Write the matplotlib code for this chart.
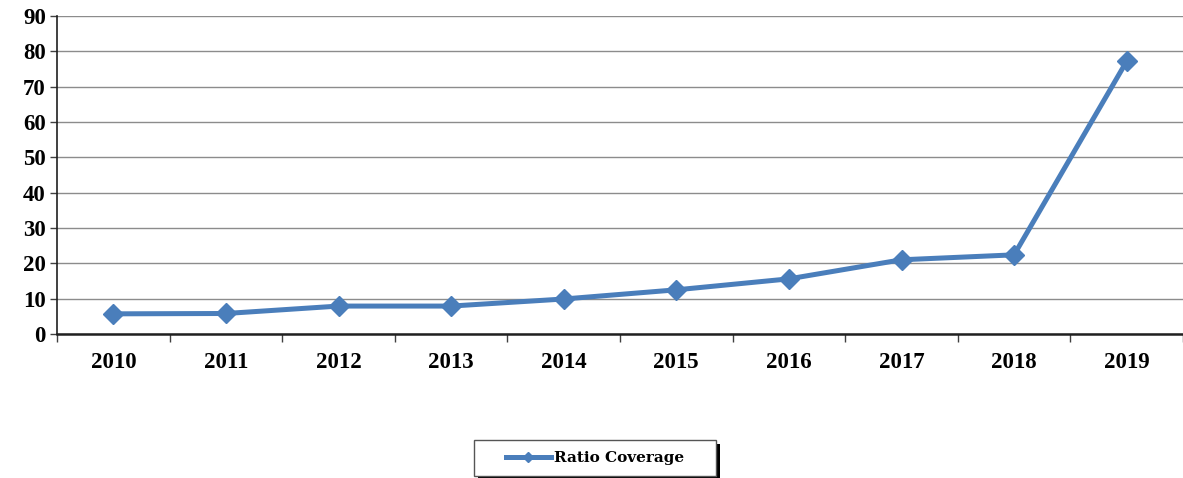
import matplotlib.pyplot as plt
from matplotlib.patches import Rectangle
import numpy as np

years = ['2010', '2011', '2012', '2013', '2014', '2015', '2016', '2017', '2018', '2019']
ratio_coverage = [5.7, 5.8, 7.9, 7.9, 9.9, 12.5, 15.6, 21.0, 22.4, 77.2]

plt.rcParams['font.family'] = ['Liberation Serif', 'DejaVu Serif']
plt.rcParams['font.weight'] = 'bold'

W, H = 1183, 478
fig = plt.figure(figsize=(W / 100, H / 100), dpi=100)
ax = fig.add_axes([0.0482, 0.3013, 0.9518, 0.6652])

x = np.arange(len(years))
ax.plot(x, ratio_coverage, color='#4A7EBB', linewidth=3.6, marker='D',
        markersize=10.5, label='Ratio Coverage')

ax.set_xlim(-0.5, len(years) - 0.5)
ax.set_ylim(0, 90)
ax.set_yticks(np.arange(0, 91, 10))
ax.set_xticks(x)
ax.set_xticklabels(years)
ax.set_xticks(np.arange(-0.5, len(years), 1), minor=True)
ax.tick_params(axis='x', which='major', length=0, pad=13, labelsize=16.5)
ax.tick_params(axis='x', which='minor', length=6, width=1, color='#404040')
ax.tick_params(axis='y', length=5, width=1, color='#404040', labelsize=16.5, pad=3)

ax.grid(axis='y', color='#8c8c8c', linewidth=1)
ax.set_axisbelow(True)
for side in ['top', 'right']:
    ax.spines[side].set_visible(False)
ax.spines['left'].set_color('#202020')
ax.spines['left'].set_linewidth(1.2)
ax.spines['bottom'].set_color('#202020')
ax.spines['bottom'].set_linewidth(1.8)

# legend frame is much wider than its content, so draw the box by hand
box_x, box_y, box_w, box_h = 474 / W, 2 / H, 242 / W, 36 / H
fig.patches.append(Rectangle((box_x + 4 / W, box_y - 4 / H), box_w, box_h,
                             transform=fig.transFigure, facecolor='black',
                             edgecolor='none', zorder=1))
fig.patches.append(Rectangle((box_x, box_y), box_w, box_h,
                             transform=fig.transFigure, facecolor='white',
                             edgecolor='#555555', linewidth=1, zorder=2))

leg = fig.legend(loc='center', bbox_to_anchor=(box_x + box_w / 2, box_y + box_h / 2),
                 prop={'family': 'DejaVu Serif', 'weight': 'bold', 'size': 11},
                 frameon=False, handlelength=2.9, handletextpad=0.2,
                 borderaxespad=0, borderpad=0)
leg.set_zorder(3)
for line in leg.get_lines():
    line.set_markersize(5)

fig.savefig('out.png', dpi=100)
